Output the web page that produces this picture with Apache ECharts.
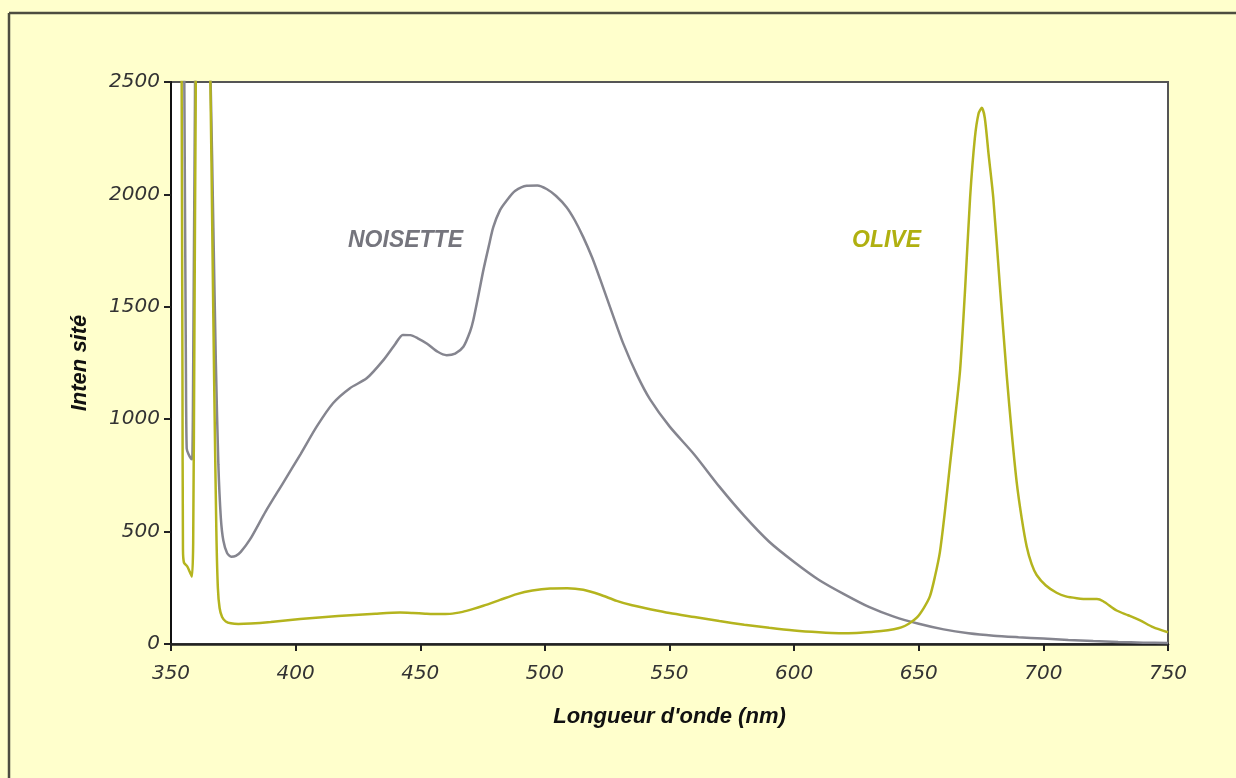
<!DOCTYPE html>
<html>
<head>
<meta charset="utf-8">
<script src="https://cdn.jsdelivr.net/npm/echarts@6/dist/echarts.min.js"></script>
<style>
  html, body { margin: 0; padding: 0; background: #ffffcc; }
  #chart { width: 1236px; height: 778px; }
</style>
</head>
<body>
<div id="chart"></div>
<script>
// Wavelength (nm) / intensity pairs
var noisette = [
  [355.2, 2800], [356.0, 1200], [356.3, 870], [357.0, 845], [358.0, 825], [358.5, 822],
  [359.0, 1400], [359.6, 2400], [360.0, 2800], [365.0, 2800], [365.9, 2500], [367.0, 1850],
  [368.0, 1250], [369.0, 800], [370.0, 560], [371.0, 460], [372.5, 405], [374.2, 388],
  [376.0, 392], [378.0, 410], [381.7, 465], [388, 590], [395, 717], [402, 845],
  [408.5, 968], [415, 1071], [421.8, 1138], [428.5, 1182], [435.2, 1263], [440, 1335],
  [443, 1375], [446, 1374], [449, 1360], [452.6, 1337], [457, 1300], [460.6, 1285],
  [464, 1292], [467.3, 1322], [470, 1390], [471.3, 1441], [473.5, 1560], [475.3, 1662],
  [477.5, 1770], [479.3, 1854], [482, 1930], [484.7, 1973], [488, 2015], [492.7, 2039],
  [497, 2040], [500.7, 2024], [504.5, 1993], [508.7, 1943], [512, 1885], [515.4, 1810],
  [519, 1718], [522.1, 1625], [527, 1472], [531.5, 1335], [537, 1196], [542.2, 1088],
  [550, 968], [560, 842], [570, 700], [580, 570], [590, 455], [600, 365], [610, 285],
  [620, 222], [630, 165], [640, 122], [650, 90], [660, 65], [670, 48], [680, 37],
  [690, 30], [700, 24], [710, 18], [720, 13], [730, 9], [740, 6], [750, 4]
];
var olive = [
  [354.2, 2800], [354.6, 1200], [354.8, 420], [355.2, 362], [356.5, 345], [357.5, 322],
  [358.4, 300], [358.9, 450], [359.4, 1400], [359.9, 2400], [360.3, 2800], [365.0, 2800],
  [365.8, 2500], [366.6, 1800], [367.4, 1100], [368.2, 500], [368.8, 250], [369.5, 160],
  [370.5, 120], [372, 100], [374, 92], [377, 89], [382, 91], [390, 98], [401.8, 111],
  [412, 120], [422, 128], [432, 135], [441.9, 140], [447, 138], [452, 135], [457, 133],
  [461.9, 134], [467, 143], [471, 155], [475.3, 170], [482, 196], [488.7, 222], [495, 238],
  [502.1, 247], [509, 248], [515.4, 241], [522, 220], [528.8, 192], [535, 172], [542.2, 155],
  [550, 138], [560, 120], [570, 102], [580, 86], [590, 72], [600, 60], [610, 52], [618, 48],
  [625, 49], [629, 52], [635, 58], [640, 66], [643, 74], [646, 90], [649.2, 117], [652, 160],
  [654.5, 213], [656.5, 300], [658.5, 410], [660.5, 590], [662.5, 795], [664.5, 995],
  [666.6, 1220], [668.6, 1580], [670.6, 1985], [672.5, 2250], [674, 2360], [675.3, 2385],
  [676.5, 2340], [678, 2180], [679.9, 1985], [682.5, 1600], [685.3, 1194], [687.3, 940],
  [689.3, 719], [691.3, 560], [693.3, 434], [695.3, 355], [697.3, 307], [701, 260],
  [705.3, 228], [709, 212], [713.4, 204], [718, 200], [721.5, 200], [724, 190], [729.4, 149],
  [734, 128], [738.8, 105], [744, 75], [750, 52]
];
var xRange = [350, 750, 50];
var yRange = [0, 2500, 500];
var seriesNames = ['NOISETTE', 'OLIVE'];
var xTitle = "Longueur d'onde (nm)";
var yTitle = 'Inten sité';

var chart = echarts.init(document.getElementById('chart'), null, { renderer: 'canvas' });
var tickFont = { fontFamily: 'DejaVu Sans', fontStyle: 'italic', fontSize: 20, color: '#333' };
var titleFont = { fontFamily: 'Liberation Sans', fontStyle: 'italic', fontWeight: 'bold', fontSize: 22, color: '#111' };
function plain(v) { return String(v); }

chart.setOption({
  backgroundColor: '#ffffcc',
  animation: false,
  grid: { left: 171, top: 82, width: 997, height: 562, show: true, backgroundColor: '#ffffff', borderColor: '#555555', borderWidth: 2 },
  xAxis: {
    type: 'value', min: xRange[0], max: xRange[1], interval: xRange[2],
    name: xTitle, nameLocation: 'middle', nameGap: 62, nameTextStyle: titleFont,
    axisLine: { lineStyle: { color: '#222', width: 2.5 } },
    axisTick: { show: true, length: 7, lineStyle: { color: '#222', width: 2 } },
    axisLabel: Object.assign({ margin: 20, formatter: plain }, tickFont),
    splitLine: { show: false }
  },
  yAxis: {
    type: 'value', min: yRange[0], max: yRange[1], interval: yRange[2],
    name: yTitle, nameLocation: 'middle', nameGap: 80, nameTextStyle: titleFont,
    axisLine: { show: true, lineStyle: { color: '#111', width: 2 } },
    axisTick: { show: true, length: 7, lineStyle: { color: '#222', width: 2 } },
    axisLabel: Object.assign({ margin: 11, formatter: plain }, tickFont),
    splitLine: { show: false }
  },
  series: [
    { name: seriesNames[0], type: 'line', data: noisette, showSymbol: false, smooth: 0.25,
      clip: true, lineStyle: { color: '#85858f', width: 2.5 }, z: 2 },
    { name: seriesNames[1], type: 'line', data: olive, showSymbol: false, smooth: 0.25,
      clip: true, lineStyle: { color: '#b4b41e', width: 2.5 }, z: 3 }
  ],
  graphic: [
    { type: 'line', shape: { x1: 9, y1: 13, x2: 1236, y2: 13 }, style: { stroke: '#4d4d40', lineWidth: 2.5 } },
    { type: 'line', shape: { x1: 9, y1: 13, x2: 9, y2: 778 }, style: { stroke: '#4d4d40', lineWidth: 2.5 } },
    { type: 'text', left: 348, top: 229, style: { text: seriesNames[0], fill: '#75757d', fontFamily: 'Liberation Sans', fontStyle: 'italic', fontWeight: 'bold', fontSize: 23 } },
    { type: 'text', left: 852, top: 229, style: { text: seriesNames[1], fill: '#b0b010', fontFamily: 'Liberation Sans', fontStyle: 'italic', fontWeight: 'bold', fontSize: 23 } }
  ]
});
</script>
</body>
</html>
